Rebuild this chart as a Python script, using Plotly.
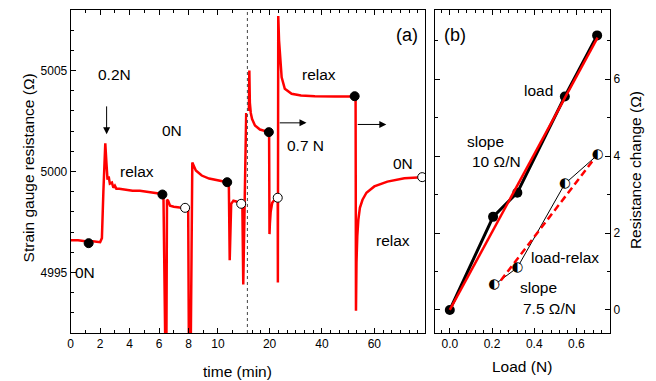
import plotly.graph_objects as go

W, H = 656, 381

# ---------------- panel (a): strain gauge resistance vs time ----------------
# early part of the broken time axis (0-12 min)
t_early = [0.0, 0.5, 1.0, 1.5, 2.0, 2.12, 2.22, 2.35, 2.43, 2.5, 2.58, 2.66, 2.8, 2.9, 3.0, 3.1,
           3.3, 3.7, 4.2, 4.7, 5.2, 5.7, 6.1, 6.3, 6.36, 6.48, 6.54, 6.62, 6.75, 7.0, 7.4, 7.77,
           7.98, 8.05, 8.14, 8.26, 8.5, 8.9, 9.4, 10.0, 10.63, 10.74, 10.8, 10.9, 11.05, 11.3,
           11.58, 11.66, 11.72, 11.92]
r_early = [4996.6, 4996.6, 4996.55, 4996.55, 4996.5, 4996.7, 4999.0, 5001.4, 5000.4, 4999.6,
           4999.75, 4999.4, 4999.45, 4999.2, 4999.3, 4999.15, 4999.15, 4999.1, 4999.05, 4999.05,
           4999.0, 4998.95, 4998.9, 4998.85, 4988.0, 4988.0, 4998.6, 4998.55, 4998.3, 4998.25,
           4998.22, 4998.2, 4998.15, 4988.0, 4990.0, 5000.45, 5000.05, 4999.8, 4999.65, 4999.55,
           4999.47, 4999.4, 4995.6, 4998.4, 4998.55, 4998.5, 4998.4, 4998.3, 4994.4, 5002.9]
# late part (12-80 min)
t_late = [12.0, 12.25, 12.45, 12.8, 13.3, 14.4, 16.3, 18.0, 19.7, 19.8, 19.95, 20.1, 20.4, 21.0,
          22.0, 23.1, 23.15, 23.3, 23.6, 23.9, 24.6, 25.8, 28.4, 32.0, 37.3, 45.0, 52.5, 52.85,
          53.0, 53.2, 53.5, 53.9, 54.5, 55.5, 57.0, 60.0, 65.0, 71.5, 78.3]
r_late = [5003.0, 5005.0, 5003.4, 5002.9, 5002.6, 5002.28, 5002.08, 5002.0, 5001.95, 5001.9,
          4996.9, 4997.4, 4998.0, 4998.45, 4998.62, 4998.7, 4994.5, 5007.7, 5006.5, 5005.74,
          5004.67, 5004.1, 5003.85, 5003.77, 5003.73, 5003.72, 5003.72, 5003.6, 4993.1, 4995.5,
          4996.8, 4997.6, 4998.2, 4998.6, 4998.95, 4999.26, 4999.5, 4999.67, 4999.72]

t_loaded_early = [1.22, 6.23, 10.63]
r_loaded_early = [4996.45, 4998.86, 4999.47]
t_relaxed_early = [7.77, 11.58]
r_relaxed_early = [4998.2, 4998.4]
t_loaded_late = [19.7, 52.5]
r_loaded_late = [5001.95, 5003.73]
t_relaxed_late = [23.1, 78.3]
r_relaxed_late = [4998.7, 4999.72]

y_ticks_a = [4995, 5000, 5005]
x_ticks_early = [0, 2, 4, 6, 8, 10]
x_ticks_late = [20, 40, 60]

# ---------------- panel (b): resistance change vs load ----------------
load_N = [0.0, 0.205, 0.32, 0.545, 0.698]
dR_load = [0.0, 2.42, 3.05, 5.55, 7.14]
load_fit_N = [0.0, 0.70]
load_fit_dR = [0.0, 7.08]
relax_N = [0.21, 0.32, 0.545, 0.70]
dR_relax = [0.65, 1.10, 3.28, 4.03]
relax_fit_N = [0.21, 0.69]
relax_fit_dR = [0.54, 3.97]

RED = "#ff0000"
FONT = "Liberation Sans, Arial, sans-serif"


def P(px, py):
    return px / W, 1 - py / H


# layout geometry (pixels)
A_L, BRK, A_R = 68, 245.5, 424
B_L, B_R = 434, 610
TOP, BOT = 10, 333
ydom = [1 - BOT / H, 1 - TOP / H]

fig = go.Figure()

# panel (a) curves
fig.add_trace(go.Scatter(x=t_early, y=r_early, mode="lines", line=dict(color=RED, width=2.5),
                         xaxis="x", yaxis="y"))
fig.add_trace(go.Scatter(x=t_late, y=r_late, mode="lines", line=dict(color=RED, width=2.5),
                         xaxis="x2", yaxis="y2"))
filled = dict(size=9, color="black", line=dict(color="black", width=1))
opened = dict(size=9, color="white", line=dict(color="black", width=1))
fig.add_trace(go.Scatter(x=t_loaded_early, y=r_loaded_early, mode="markers", marker=filled,
                         xaxis="x", yaxis="y"))
fig.add_trace(go.Scatter(x=t_relaxed_early, y=r_relaxed_early, mode="markers", marker=opened,
                         xaxis="x", yaxis="y"))
fig.add_trace(go.Scatter(x=t_loaded_late, y=r_loaded_late, mode="markers", marker=filled,
                         xaxis="x2", yaxis="y2"))
fig.add_trace(go.Scatter(x=t_relaxed_late, y=r_relaxed_late, mode="markers", marker=opened,
                         xaxis="x2", yaxis="y2"))

# panel (b)
fig.add_trace(go.Scatter(x=load_N, y=dR_load, mode="lines+markers",
                         line=dict(color="black", width=3),
                         marker=dict(size=10, color="black"), xaxis="x3", yaxis="y3"))
fig.add_trace(go.Scatter(x=load_fit_N, y=load_fit_dR, mode="lines",
                         line=dict(color=RED, width=2.5), xaxis="x3", yaxis="y3"))
fig.add_trace(go.Scatter(x=relax_N, y=dR_relax, mode="lines",
                         line=dict(color="black", width=1), xaxis="x3", yaxis="y3"))
fig.add_trace(go.Scatter(x=relax_fit_N, y=relax_fit_dR, mode="lines",
                         line=dict(color=RED, width=2.5, dash="7px,4px"), xaxis="x3", yaxis="y3"))
fig.add_trace(go.Scatter(x=relax_N, y=dR_relax, mode="markers",
                         marker=dict(size=9, color="white"), xaxis="x3", yaxis="y3"))
fig.add_trace(go.Scatter(x=relax_N, y=dR_relax, mode="text", text=["\u25d0"] * len(relax_N),
                         textposition="middle center",
                         textfont=dict(family="DejaVu Sans", size=13.5, color="black"),
                         xaxis="x3", yaxis="y3"))

ax_common = dict(showline=True, linecolor="black", linewidth=1, ticks="inside", ticklen=5,
                 tickwidth=1, tickcolor="black", showgrid=False, zeroline=False,
                 tickfont=dict(family=FONT, size=12, color="black"))
minor_common = dict(ticks="inside", ticklen=3, tickcolor="black", showgrid=False)

fig.update_layout(
    width=W, height=H, margin=dict(l=0, r=0, t=0, b=0),
    paper_bgcolor="white", plot_bgcolor="white", showlegend=False,
    font=dict(family=FONT, size=15.5, color="black"),
    xaxis=dict(ax_common, domain=[A_L / W, BRK / W], range=[0, 12], anchor="y",
               tickvals=x_ticks_early, mirror="ticks",
               minor=dict(minor_common, dtick=1, tick0=0)),
    xaxis2=dict(ax_common, domain=[BRK / W, A_R / W], range=[11.5, 79.4], anchor="y2",
                tickvals=x_ticks_late, mirror="ticks",
                minor=dict(minor_common, dtick=20 / 6, tick0=0)),
    yaxis=dict(ax_common, domain=ydom, range=[4992, 5008], anchor="x",
               tickvals=y_ticks_a, mirror=False,
               minor=dict(minor_common, dtick=1, tick0=0)),
    yaxis2=dict(domain=ydom, range=[4992, 5008], anchor="x2", side="right",
                showline=True, linecolor="black", linewidth=1, ticks="",
                showticklabels=False, showgrid=False, zeroline=False),
    xaxis3=dict(ax_common, domain=[B_L / W, B_R / W], range=[-0.07, 0.76], anchor="y3",
                dtick=0.2, tick0=0, tickformat=".1f", mirror="ticks",
                minor=dict(minor_common, dtick=0.04, tick0=0)),
    yaxis3=dict(ax_common, domain=ydom, range=[-0.6, 7.8], anchor="x3", side="right",
                dtick=2, tick0=0, mirror="ticks",
                minor=dict(minor_common, dtick=1, tick0=0)),
)

# axis break (dotted line)
fig.add_shape(type="line", xref="paper", yref="paper", x0=BRK / W, x1=BRK / W,
              y0=ydom[0], y1=ydom[1], line=dict(color="#444", width=1, dash="dot"))

# arrows
arrow = dict(showarrow=True, arrowhead=2, arrowsize=1.4, arrowwidth=1, arrowcolor="black", text="")
fig.add_annotation(arrow, x=2.44, y=5001.85, ax=2.44, ay=5003.3, xref="x", yref="y",
                   axref="x", ayref="y")
fig.add_annotation(arrow, x=34.1, y=5002.41, ax=23.3, ay=5002.41, xref="x2", yref="y2",
                   axref="x2", ayref="y2")
fig.add_annotation(arrow, x=64.6, y=5002.33, ax=53.1, ay=5002.33, xref="x2", yref="y2",
                   axref="x2", ayref="y2")

labels = [
    ("0.2N", 112, 74, 15.5), ("0N", 170, 130, 15.5), ("relax", 135, 172, 15.5),
    ("relax", 317, 74, 15.5), ("0.7 N", 303.5, 145, 15.5), ("0N", 402, 163, 15.5),
    ("relax", 391.7, 241, 15.5), ("0N", 82.5, 272, 15.5),
    ("(a)", 406, 35, 18), ("(b)", 454.5, 35, 18),
    ("load", 538, 90.7, 15.5), ("slope", 485, 141.7, 15.5), ("10 \u03a9/N", 495.3, 161, 15.5),
    ("load-relax", 565, 257.3, 15.5), ("slope", 537.5, 287.3, 15.5),
    ("7.5 \u03a9/N", 548.7, 308.3, 15.5),
    ("time (min)", 235.5, 371, 15.5), ("Load (N)", 521.7, 366.7, 15.5),
]
for txt, px, py, fs in labels:
    x, y = P(px, py)
    fig.add_annotation(x=x, y=y, xref="paper", yref="paper", text=txt, showarrow=False,
                       xanchor="center", yanchor="middle", font=dict(size=fs, family=FONT))

for txt, px, py in [("Strain gauge resistance (\u03a9)", 26, 167.5),
                    ("Resistance change (\u03a9)", 635, 170)]:
    x, y = P(px, py)
    fig.add_annotation(x=x, y=y, xref="paper", yref="paper", text=txt, showarrow=False,
                       textangle=-90, xanchor="center", yanchor="middle",
                       font=dict(size=15.5, family=FONT))

# remove the browser's default page margin so the 656x381 figure fills the window exactly
fig.write_html("out.html", config={"displayModeBar": False},
               post_script="document.body.style.margin='0';document.body.style.overflow='hidden';")
